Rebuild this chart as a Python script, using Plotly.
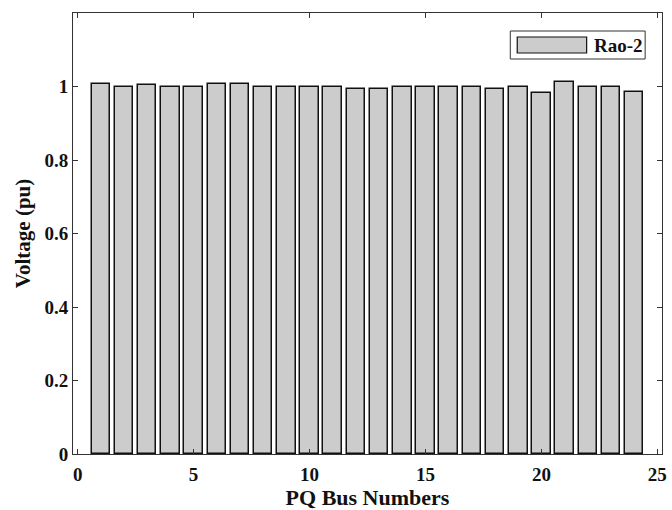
import plotly.graph_objects as go

bus_numbers = list(range(1, 25))
voltage_rao2 = [1.008, 1.000, 1.004, 0.998, 0.999, 1.007, 1.007, 1.000, 1.000, 1.000,
                1.000, 0.993, 0.992, 0.998, 1.000, 1.000, 0.999, 0.994, 0.999, 0.981,
                1.011, 0.998, 0.999, 0.984]
series_name = "Rao-2"
x_ticks = [0, 5, 10, 15, 20, 25]
y_ticks = [0, 0.2, 0.4, 0.6, 0.8, 1]

FONT = "'Liberation Serif', 'Times New Roman', serif"
AX = "#333333"

fig = go.Figure()
fig.add_trace(go.Bar(
    x=bus_numbers, y=voltage_rao2, width=0.8, name=series_name,
    marker=dict(color="#cccccc", line=dict(color="#111111", width=1.5)),
    showlegend=False,
))

W, H = 672, 510
L, R, T, B = 73, 5, 13, 56
pw, ph = W - L - R, H - T - B

def px(x):
    return (x - L) / pw

def py(y):
    return (H - B - y) / ph

# legend box (drawn in paper coordinates)
fig.add_shape(type="rect", xref="paper", yref="paper",
              x0=px(514), x1=px(650), y0=py(59), y1=py(31),
              line=dict(color=AX, width=1), fillcolor="white")
fig.add_shape(type="rect", xref="paper", yref="paper",
              x0=px(521), x1=px(591), y0=py(53), y1=py(37),
              line=dict(color="#111111", width=1.2), fillcolor="#cccccc")
fig.add_annotation(xref="paper", yref="paper", x=px(596), y=py(45),
                   text="<b>" + series_name + "</b>", showarrow=False,
                   xanchor="left", yanchor="middle",
                   font=dict(family=FONT, size=19, color="#111111"))

axis_common = dict(
    showline=True, linecolor=AX, linewidth=1, mirror="ticks",
    ticks="inside", ticklen=5, tickcolor=AX, showgrid=False, zeroline=False,
    tickfont=dict(family=FONT, size=19, color="#111111"),
)

fig.update_layout(
    width=W, height=H,
    margin=dict(l=L, r=R, t=T, b=B, pad=0),
    plot_bgcolor="white", paper_bgcolor="white",
    font=dict(family=FONT, color="#111111"),
    bargap=0,
    xaxis=dict(range=[-0.2, 25.2], tickvals=x_ticks,
               ticktext=["<b>%d</b>" % v for v in x_ticks],
               ticklabelstandoff=3,
               title=dict(text="<b>PQ Bus Numbers</b>", standoff=5,
                          font=dict(family=FONT, size=22, color="#111111")),
               **axis_common),
    yaxis=dict(range=[0, 1.2], tickvals=y_ticks,
               ticktext=["<b>%g</b>" % v for v in y_ticks],
               title=dict(text="<b>Voltage (pu)</b>", standoff=8,
                          font=dict(family=FONT, size=21, color="#111111")),
               **axis_common),
)

fig.write_html("out.html")
